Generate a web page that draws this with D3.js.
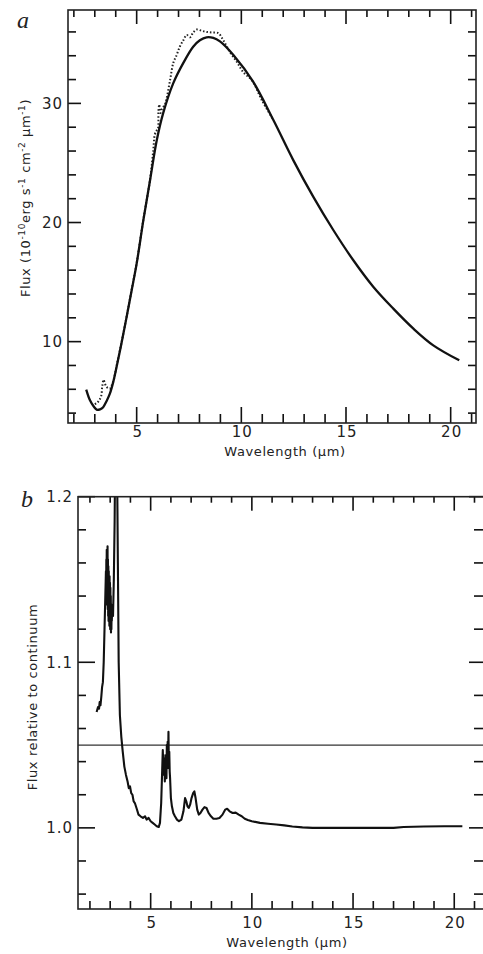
<!DOCTYPE html>
<html>
<head>
<meta charset="utf-8">
<script src="https://cdn.jsdelivr.net/npm/d3@7"></script>
<style>
body { margin: 0; background: #fff; }
svg text { font-family: "DejaVu Sans", sans-serif; fill: #222; }
.lbl { font-size: 15px; letter-spacing: 1px; }
.letter { font-family: "Liberation Serif", serif; font-style: italic; font-size: 24px; }
.title { font-size: 13px; letter-spacing: 0.6px; }
</style>
</head>
<body>
<div id="chart"></div>
<script>
// panel a: model continuum (solid) and observed flux (dotted)
var modelX = [2.59, 2.77, 2.95, 3.09, 3.25, 3.40, 3.56, 3.72, 3.88, 4.04, 4.28, 4.52, 4.76, 5.0, 5.32, 5.64, 5.96, 6.27, 6.75, 7.23, 7.70, 8.02, 8.34, 8.66, 8.98, 9.62, 10.57, 11.53, 12.48, 13.44, 14.40, 15.35, 16.31, 17.26, 18.22, 19.17, 20.41];
var modelY = [5.97, 5.07, 4.55, 4.29, 4.32, 4.5, 5.0, 5.63, 6.6, 7.87, 9.9, 12.07, 14.3, 16.55, 20.2, 23.55, 26.9, 29.2, 31.7, 33.4, 34.76, 35.3, 35.55, 35.5, 35.2, 34.06, 31.8, 28.6, 25.24, 22.15, 19.35, 16.83, 14.59, 12.77, 11.09, 9.69, 8.43];

var obsX = [3.00, 3.10, 3.20, 3.30, 3.36, 3.42, 3.48, 3.56, 3.64, 3.72, 3.80, 3.90, 4.04, 4.28, 4.52, 4.76, 5.0, 5.32, 5.64, 5.79, 5.87, 5.95, 6.02, 6.04, 6.08, 6.14, 6.20, 6.27, 6.35, 6.43, 6.60, 6.75, 6.91, 7.07, 7.23, 7.39, 7.55, 7.70, 7.87, 8.10, 8.34, 8.60, 8.90, 9.14, 9.46, 9.78, 10.1, 10.5, 11.0, 11.5];
var obsY = [4.75, 4.85, 5.05, 5.40, 6.30, 6.80, 6.50, 6.20, 6.10, 6.05, 6.30, 6.75, 7.95, 9.95, 12.1, 14.35, 16.6, 20.25, 23.6, 26.0, 27.4, 27.7, 27.9, 29.3, 29.9, 29.2, 29.5, 29.7, 29.9, 30.4, 32.0, 33.4, 34.06, 34.8, 35.3, 35.75, 35.55, 35.95, 36.2, 36.1, 36.0, 35.95, 35.9, 35.3, 34.3, 33.5, 32.6, 31.95, 30.2, 28.7];

// panel b: flux relative to continuum
var specX = [2.33, 2.40, 2.45, 2.48, 2.52, 2.56, 2.60, 2.64, 2.68, 2.72, 2.76, 2.79, 2.80, 2.81, 2.82, 2.83, 2.84, 2.85, 2.86, 2.87, 2.88, 2.89, 2.90, 2.91, 2.92, 2.93, 2.94, 2.95, 2.96, 2.97, 2.98, 2.99, 3.00, 3.01, 3.02, 3.03, 3.04, 3.05, 3.06, 3.07, 3.08, 3.10, 3.14, 3.18, 3.22, 3.25, 3.30, 3.34, 3.38, 3.42, 3.48, 3.55, 3.62, 3.70, 3.78, 3.86, 3.92, 3.98, 4.04, 4.10, 4.16, 4.22, 4.30, 4.40, 4.50, 4.62, 4.72, 4.80, 4.90, 5.00, 5.10, 5.20, 5.30, 5.40, 5.46, 5.52, 5.57, 5.60, 5.62, 5.64, 5.66, 5.68, 5.70, 5.72, 5.74, 5.76, 5.78, 5.80, 5.82, 5.84, 5.86, 5.88, 5.90, 5.92, 5.94, 5.96, 6.00, 6.05, 6.12, 6.20, 6.30, 6.40, 6.52, 6.62, 6.70, 6.76, 6.82, 6.88, 6.95, 7.02, 7.10, 7.16, 7.22, 7.30, 7.38, 7.46, 7.56, 7.66, 7.76, 7.86, 7.98, 8.10, 8.25, 8.40, 8.55, 8.68, 8.78, 8.90, 9.05, 9.20, 9.35, 9.50, 9.65, 9.80, 10.0, 10.4, 10.8, 11.2, 11.6, 12.0, 12.5, 13.0, 14.0, 15.0, 16.0, 17.0, 17.5, 18.5, 19.5, 20.4];
var specY = [1.070, 1.073, 1.072, 1.076, 1.074, 1.079, 1.085, 1.088, 1.100, 1.120, 1.140, 1.155, 1.140, 1.162, 1.148, 1.168, 1.135, 1.165, 1.140, 1.170, 1.132, 1.162, 1.128, 1.158, 1.125, 1.155, 1.130, 1.150, 1.122, 1.152, 1.128, 1.148, 1.120, 1.145, 1.125, 1.140, 1.118, 1.135, 1.120, 1.130, 1.125, 1.132, 1.128, 1.150, 1.185, 1.230, 1.260, 1.220, 1.160, 1.100, 1.068, 1.055, 1.046, 1.037, 1.032, 1.028, 1.024, 1.025, 1.021, 1.020, 1.016, 1.015, 1.012, 1.008, 1.007, 1.006, 1.007, 1.005, 1.006, 1.004, 1.003, 1.002, 1.001, 1.0005, 1.003, 1.015, 1.035, 1.047, 1.038, 1.044, 1.032, 1.042, 1.028, 1.040, 1.030, 1.044, 1.030, 1.050, 1.036, 1.052, 1.040, 1.058, 1.036, 1.046, 1.034, 1.030, 1.018, 1.013, 1.009, 1.007, 1.005, 1.004, 1.005, 1.010, 1.018, 1.016, 1.013, 1.012, 1.014, 1.018, 1.021, 1.022, 1.018, 1.011, 1.008, 1.009, 1.011, 1.0125, 1.012, 1.009, 1.007, 1.0055, 1.0055, 1.006, 1.008, 1.011, 1.0115, 1.010, 1.009, 1.0092, 1.008, 1.007, 1.0055, 1.0048, 1.004, 1.003, 1.0025, 1.002, 1.0015, 1.0008, 1.0003, 1.0, 1.0, 1.0, 1.0, 1.0, 1.0005, 1.0008, 1.001, 1.001];
var refLevel = 1.05;

// ticks
var xMajor = [5, 10, 15, 20];
var xMinor = [2, 3, 4, 6, 7, 8, 9, 11, 12, 13, 14, 16, 17, 18, 19, 21];
var yMajorA = [10, 20, 30];
var yMinorA = [4, 6, 8, 12, 14, 16, 18, 22, 24, 26, 28, 32, 34, 36];
var yMajorB = [1.0, 1.1, 1.2];
var yMinorB = [0.96, 0.98, 1.02, 1.04, 1.06, 1.08, 1.12, 1.14, 1.16, 1.18];

var svg = d3.select("#chart").append("svg")
    .attr("width", 483)
    .attr("height", 954);

function zip(xs, ys) {
    return xs.map(function(d, i) { return [d, ys[i]]; });
}

// inward tick marks as thin filled rects
var TW = 1.6;
function tickRects(g, vals, scale, side, len, edge) {
    g.selectAll(null)
        .data(vals)
        .enter().append("rect")
        .attr("fill", "#111")
        .attr("x", function(d) {
            if (side == "bottom" || side == "top") return scale(d) - TW / 2;
            return side == "left" ? edge : edge - len;
        })
        .attr("y", function(d) {
            if (side == "left" || side == "right") return scale(d) - TW / 2;
            return side == "top" ? edge : edge - len;
        })
        .attr("width", (side == "bottom" || side == "top") ? TW : len)
        .attr("height", (side == "bottom" || side == "top") ? len : TW);
}

function drawFrame(p) {
    var g = svg.append("g");
    var xs = p.x, ys = p.y;
    var left = xs.range()[0], right = xs.range()[1];
    var bottom = ys.range()[0], top = ys.range()[1];

    tickRects(g, xMinor, xs, "bottom", p.len.bMin, bottom);
    tickRects(g, xMajor, xs, "bottom", p.len.bMaj, bottom);
    tickRects(g, xMinor, xs, "top", p.len.tMin, top);
    tickRects(g, xMajor, xs, "top", p.len.tMaj, top);
    tickRects(g, p.yMinor, ys, "left", p.len.lMin, left);
    tickRects(g, p.yMajor, ys, "left", p.len.lMaj, left);
    tickRects(g, p.yMinor, ys, "right", p.len.rMin, right);
    tickRects(g, p.yMajor, ys, "right", p.len.rMaj, right);

    g.append("rect")
        .attr("x", left).attr("y", top)
        .attr("width", right - left).attr("height", bottom - top)
        .attr("fill", "none")
        .attr("stroke", "#222")
        .attr("stroke-width", 1.6);

    g.selectAll(null).data(xMajor).enter().append("text")
        .attr("class", "lbl")
        .attr("x", function(d) { return xs(d) + 1; })
        .attr("y", p.labelY)
        .attr("text-anchor", "middle")
        .text(function(d) { return d; });

    g.selectAll(null).data(p.yMajor).enter().append("text")
        .attr("class", "lbl")
        .attr("x", left - 5)
        .attr("y", function(d) { return ys(d); })
        .attr("dy", "0.36em")
        .attr("text-anchor", "end")
        .text(p.fmt);
    return g;
}

var xA = d3.scaleLinear().domain([1.72, 21.21]).range([68, 476]);
var yA = d3.scaleLinear().domain([3.17, 37.84]).range([423, 10]);
var xB = d3.scaleLinear().domain([1.41, 21.47]).range([78, 484]);
var yB = d3.scaleLinear().domain([0.951, 1.2]).range([909, 496.7]);

// ---- panel a ----
var lineA = d3.line()
    .x(function(d) { return xA(d[0]); })
    .y(function(d) { return yA(d[1]); })
    .curve(d3.curveCatmullRom);

svg.append("path")
    .datum(zip(obsX, obsY))
    .attr("d", lineA)
    .attr("fill", "none")
    .attr("stroke", "#222")
    .attr("stroke-width", 2)
    .attr("stroke-dasharray", "1.5 2");

svg.append("path")
    .datum(zip(modelX, modelY))
    .attr("d", lineA)
    .attr("fill", "none")
    .attr("stroke", "#111")
    .attr("stroke-width", 2.3);

svg.append("text").attr("class", "letter").attr("x", 17).attr("y", 28).text("a");

svg.append("text").attr("class", "title")
    .attr("x", 285).attr("y", 456)
    .attr("text-anchor", "middle")
    .text("Wavelength (μm)");

var yTitleA = svg.append("text").attr("class", "title")
    .attr("transform", "translate(30,198) rotate(-90)")
    .attr("text-anchor", "middle");
yTitleA.append("tspan").text("Flux (10");
yTitleA.append("tspan").attr("dy", -5).attr("font-size", "9px").text("-10");
yTitleA.append("tspan").attr("dy", 5).text("erg s");
yTitleA.append("tspan").attr("dy", -5).attr("font-size", "9px").text("-1");
yTitleA.append("tspan").attr("dy", 5).text(" cm");
yTitleA.append("tspan").attr("dy", -5).attr("font-size", "9px").text("-2");
yTitleA.append("tspan").attr("dy", 5).text(" μm");
yTitleA.append("tspan").attr("dy", -5).attr("font-size", "9px").text("-1");
yTitleA.append("tspan").attr("dy", 5).text(")");

// ---- panel b ----
svg.append("clipPath").attr("id", "clipB")
    .append("rect")
    .attr("x", 78).attr("y", 496.7)
    .attr("width", 406).attr("height", 909 - 496.7);

var lineB = d3.line()
    .x(function(d) { return xB(d[0]); })
    .y(function(d) { return yB(d[1]); });

svg.append("line")
    .attr("x1", xB.range()[0]).attr("x2", xB.range()[1])
    .attr("y1", yB(refLevel)).attr("y2", yB(refLevel))
    .attr("stroke", "#333")
    .attr("stroke-width", 1.2);

svg.append("path")
    .datum(zip(specX, specY))
    .attr("clip-path", "url(#clipB)")
    .attr("d", lineB)
    .attr("fill", "none")
    .attr("stroke", "#111")
    .attr("stroke-width", 2.1)
    .attr("stroke-linejoin", "round");

svg.append("text").attr("class", "letter").attr("x", 21).attr("y", 507).text("b");

svg.append("text").attr("class", "title")
    .attr("x", 287).attr("y", 947)
    .attr("text-anchor", "middle")
    .text("Wavelength (μm)");

svg.append("text").attr("class", "title")
    .attr("transform", "translate(37,697) rotate(-90)")
    .attr("text-anchor", "middle")
    .text("Flux relative to continuum");

// frames and ticks on top
drawFrame({
    x: xA, y: yA, yMajor: yMajorA, yMinor: yMinorA,
    fmt: d3.format("d"), labelY: 437,
    len: { bMin: 9, bMaj: 16, tMin: 7, tMaj: 14, lMin: 8, lMaj: 13, rMin: 8, rMaj: 8 }
});
drawFrame({
    x: xB, y: yB, yMajor: yMajorB, yMinor: yMinorB,
    fmt: d3.format(".1f"), labelY: 928,
    len: { bMin: 8, bMaj: 16, tMin: 6, tMaj: 14, lMin: 8, lMaj: 17, rMin: 10, rMaj: 15 }
});
</script>
</body>
</html>
